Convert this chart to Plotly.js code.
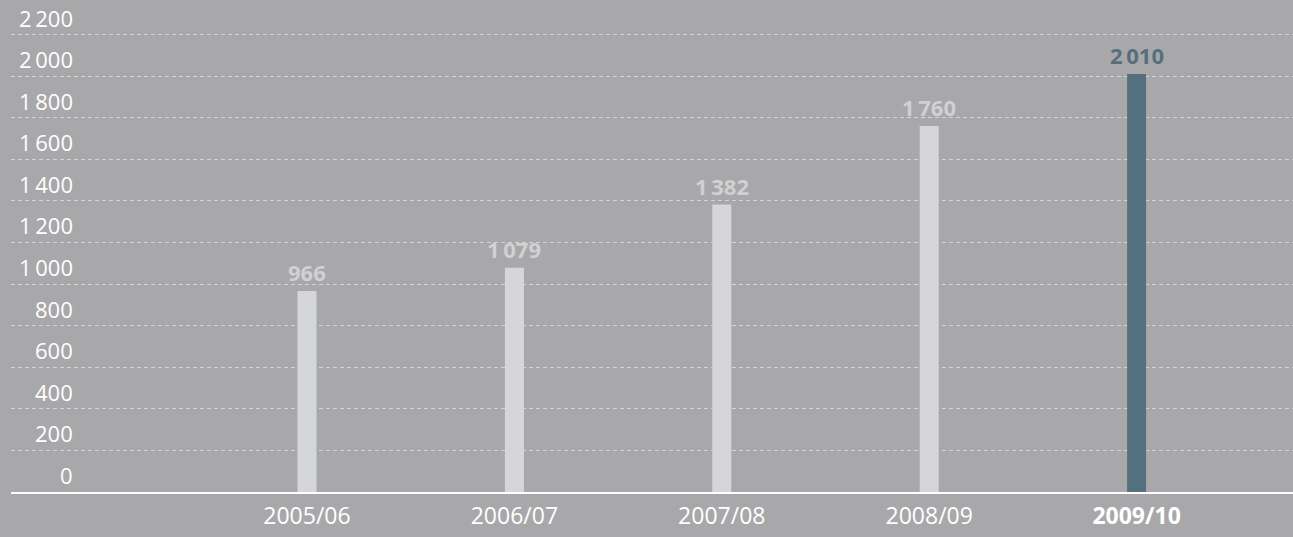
<!DOCTYPE html>
<html>
<head>
<meta charset="utf-8">
<script src="https://cdn.plot.ly/plotly-3.0.1.min.js"></script>
<style>
html,body{margin:0;padding:0;background:#a8a8aa;}
#chart{width:1293px;height:537px;}
</style>
</head>
<body>
<div id="chart"></div>
<script>
// Data
var categories = ["2005/06", "2006/07", "2007/08", "2008/09", "2009/10"];
var values = [966, 1079, 1382, 1760, 2010];
var yTicks = [0, 200, 400, 600, 800, 1000, 1200, 1400, 1600, 1800, 2000, 2200];
var highlightIndex = 4;

var lightBar = "#d5d6d8";
var darkBar = "#546f7e";
var lightLabel = "#d0d1d3";
var bg = "#a8a8aa";
var FONT = "'Open Sans', 'Noto Sans', sans-serif";

function fmt(n) {
  var s = String(n);
  if (s.length > 3) s = s.slice(0, s.length - 3) + "\u2009" + s.slice(s.length - 3);
  return s;
}

var idx = categories.map(function (c, i) { return i; });
var barColors = values.map(function (v, i) { return i === highlightIndex ? darkBar : lightBar; });

var trace = {
  type: "bar",
  x: idx,
  y: values,
  width: 0.0916,
  marker: { color: barColors, line: { width: 0 } },
  hoverinfo: "skip"
};

var annotations = [];
// value labels
values.forEach(function (v, i) {
  annotations.push({
    x: i, y: v, xref: "x", yref: "y",
    text: "<b>" + fmt(v) + "</b>",
    showarrow: false, xanchor: "center", yanchor: "bottom", yshift: 2,
    font: { family: FONT, size: 22, color: i === highlightIndex ? darkBar : lightLabel }
  });
});
// y tick labels, above the gridlines
yTicks.forEach(function (t) {
  annotations.push({
    x: 0.0497, y: t, xref: "paper", yref: "y",
    text: fmt(t),
    showarrow: false, xanchor: "right", yanchor: "bottom", yshift: 0,
    font: { family: FONT, size: 22, color: "#ffffff" }
  });
});

var tickText = categories.map(function (c, i) { return i === highlightIndex ? "<b>" + c + "</b>" : c; });

var layout = {
  width: 1293, height: 537,
  margin: { l: 11, r: 0, t: 0, b: 45 },
  paper_bgcolor: bg, plot_bgcolor: bg,
  showlegend: false,
  font: { family: FONT, color: "#ffffff" },
  xaxis: {
    range: [-1.427, 4.754],
    tickvals: idx, ticktext: tickText,
    tickfont: { family: FONT, size: 23, color: "#ffffff" },
    ticklabelstandoff: 3,
    showgrid: false, zeroline: false,
    showline: true, linecolor: "#ffffff", linewidth: 1.5,
    ticks: "", fixedrange: true
  },
  yaxis: {
    range: [0, 2366],
    tickvals: yTicks,
    showticklabels: false,
    showgrid: true, gridcolor: "#d4d4d6", gridwidth: 1, griddash: "4px,3px",
    zeroline: false, showline: false, ticks: "", fixedrange: true
  },
  annotations: annotations
};

Plotly.newPlot("chart", [trace], layout, { displayModeBar: false, staticPlot: true });
</script>
</body>
</html>
